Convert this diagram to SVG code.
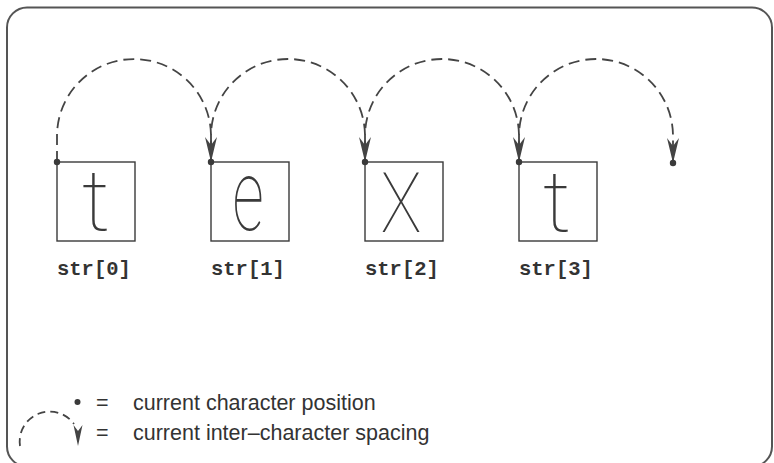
<svg xmlns="http://www.w3.org/2000/svg" width="774" height="463" viewBox="0 0 774 463">
  <style>
    .frame { fill: #ffffff; stroke: #555555; stroke-width: 2; }
    .cell { fill: none; stroke: #3a3a3a; stroke-width: 1.4; }
    .glyph { font-family: Roboto, "Liberation Sans", sans-serif; font-weight: 100; font-size: 100px; fill: #3a3a3a; text-anchor: middle; }
    .label { font-family: "Liberation Mono", "DejaVu Sans Mono", monospace; font-weight: bold; font-size: 20.5px; fill: #333333; }
    .legend { font-family: "Liberation Sans", Arial, sans-serif; font-size: 21.5px; fill: #333333; }
    .pos { fill: #3a3a3a; }
    .hop { fill: none; stroke: #444444; stroke-width: 1.8; stroke-dasharray: 11 6; marker-end: url(#barb); }
  </style>
  <defs>
    <marker id="barb" viewBox="0 -7 26 14" markerWidth="26" markerHeight="14" refX="25" refY="0" markerUnits="userSpaceOnUse" orient="auto">
      <path d="M0,-6 L25,0 L0,6 L8,0 Z" fill="#444444" stroke="none"/>
    </marker>
  </defs>

  <!-- outer frame -->
  <rect class="frame" x="7" y="7.5" width="765" height="459" rx="20" ry="20"/>

  <!-- inter-character spacing hops -->
  <g id="connectors">
    <path class="hop" d="M57,162 V136 A77,77 0 0 1 211,136 V162"/>
    <path class="hop" d="M211,162 V136 A77,77 0 0 1 365,136 V162"/>
    <path class="hop" d="M365,162 V136 A77,77 0 0 1 519,136 V162"/>
    <path class="hop" d="M519,162 V136 A77,77 0 0 1 673,136 V163"/>
  </g>

  <!-- character cells -->
  <g id="char-0">
    <rect class="cell" x="57" y="162" width="78" height="79"/>
    <text class="glyph" transform="translate(96,230) scale(0.9,0.86)">t</text>
    <text class="label" x="57" y="275">str[0]</text>
    <circle class="pos" cx="57" cy="162" r="3.2"/>
  </g>
  <g id="char-1">
    <rect class="cell" x="211" y="162" width="78" height="79"/>
    <text class="glyph" transform="translate(248,230) scale(0.62,1)">e</text>
    <text class="label" x="211" y="275">str[1]</text>
    <circle class="pos" cx="211" cy="162" r="3.2"/>
  </g>
  <g id="char-2">
    <rect class="cell" x="365" y="162" width="78" height="79"/>
    <text class="glyph" transform="translate(401,232) scale(0.68,0.84)">X</text>
    <text class="label" x="365" y="275">str[2]</text>
    <circle class="pos" cx="365" cy="162" r="3.2"/>
  </g>
  <g id="char-3">
    <rect class="cell" x="519" y="162" width="78" height="79"/>
    <text class="glyph" transform="translate(557,231) scale(0.9,0.86)">t</text>
    <text class="label" x="519" y="275">str[3]</text>
    <circle class="pos" cx="519" cy="162" r="3.2"/>
  </g>
  <g id="end-pos">
    <circle class="pos" cx="673" cy="163" r="3.2"/>
  </g>

  <!-- legend -->
  <g id="legend">
    <circle class="pos" cx="77.5" cy="402" r="3"/>
    <text class="legend" x="96" y="410">=</text>
    <text class="legend" x="133" y="410">current character position</text>
    <path d="M20,446 A30,30 0 0 1 74,424" fill="none" stroke="#444444" stroke-width="1.8" stroke-dasharray="8 5"/>
    <path d="M73.5,425 L78,446 L82.5,425 L78,431 Z" fill="#444444"/>
    <text class="legend" x="96" y="440">=</text>
    <text class="legend" x="133" y="440">current inter–character spacing</text>
  </g>
</svg>
